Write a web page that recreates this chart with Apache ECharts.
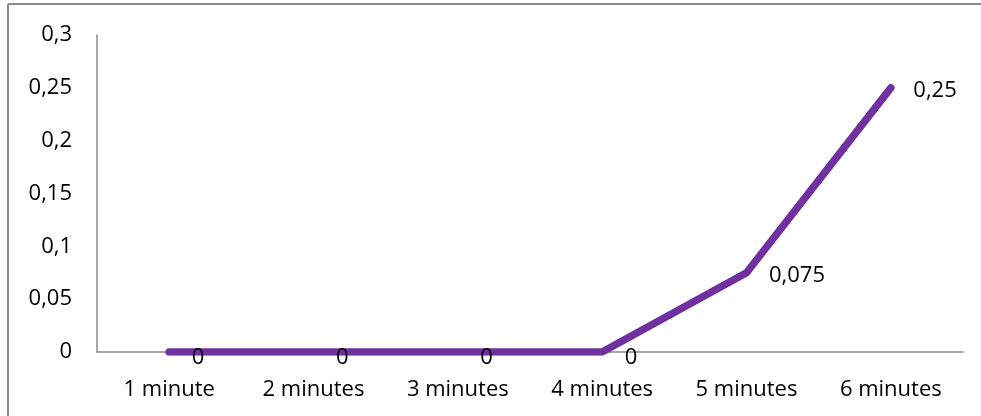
<!DOCTYPE html>
<html>
<head>
<meta charset="utf-8">
<script src="https://cdn.jsdelivr.net/npm/echarts@6/dist/echarts.min.js"></script>
<style>
  html, body { margin: 0; padding: 0; background: #fff; }
  #chart { width: 981px; height: 416px; }
</style>
</head>
<body>
<div id="chart"></div>
<script>
// Elapsed time categories and measured values
const categories = ['1 minute', '2 minutes', '3 minutes', '4 minutes', '5 minutes', '6 minutes'];
const values = [0, 0, 0, 0, 0.075, 0.25];
const yTicks = [0, 0.05, 0.1, 0.15, 0.2, 0.25, 0.3];

const FONT = '"Open Sans", sans-serif';
const fmt = v => String(v).replace('.', ',');

const chart = echarts.init(document.getElementById('chart'), null, { renderer: 'canvas' });

chart.setOption({
  animation: false,
  backgroundColor: '#ffffff',
  textStyle: { fontFamily: FONT },
  grid: { left: 97, right: 18, top: 35, bottom: 64 },
  graphic: [
    { type: 'line', shape: { x1: 8, y1: 4, x2: 981, y2: 4 }, style: { stroke: '#8c8c8c', lineWidth: 2 } },
    { type: 'line', shape: { x1: 8, y1: 4, x2: 8, y2: 416 }, style: { stroke: '#8c8c8c', lineWidth: 2 } }
  ],
  xAxis: {
    type: 'category',
    data: categories,
    boundaryGap: true,
    axisLine: { lineStyle: { color: '#898989', width: 1.5 } },
    axisTick: { show: false },
    axisLabel: { color: '#000', fontSize: 22, fontFamily: FONT, margin: 27, interval: 0 }
  },
  yAxis: {
    type: 'value',
    min: yTicks[0],
    max: yTicks[yTicks.length - 1],
    interval: 0.05,
    splitLine: { show: false },
    axisLine: { show: true, lineStyle: { color: '#898989', width: 1.5 } },
    axisTick: { show: false },
    axisLabel: {
      color: '#000', fontSize: 22, fontFamily: FONT, margin: 25,
      formatter: v => fmt(+v.toFixed(2))
    }
  },
  series: [{
    type: 'line',
    data: values.map(v => ({
      value: v,
      label: { offset: v === 0 ? [0, 6] : [0, 3] }
    })),
    symbol: 'circle',
    symbolSize: 1,
    showAllSymbol: true,
    itemStyle: { color: '#7030a0' },
    lineStyle: { color: '#7030a0', width: 7.5, cap: 'round', join: 'round' },
    label: {
      show: true,
      position: 'right',
      distance: 22,
      color: '#000',
      fontSize: 22,
      fontFamily: FONT,
      formatter: p => fmt(p.value)
    }
  }]
});
</script>
</body>
</html>
